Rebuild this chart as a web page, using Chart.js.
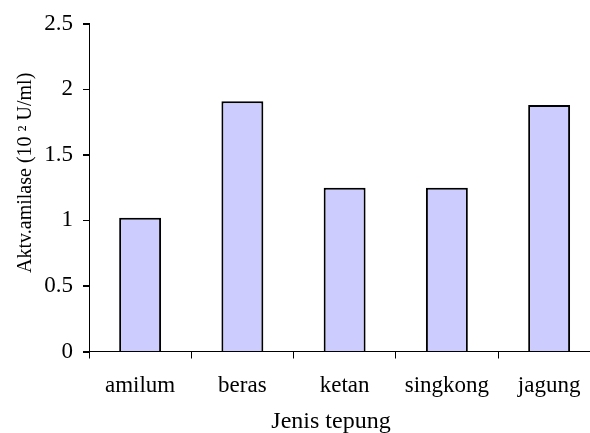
<!DOCTYPE html>
<html>
<head>
<meta charset="utf-8">
<script src="https://cdn.jsdelivr.net/npm/chart.js@4/dist/chart.umd.min.js"></script>
<style>
  html, body { margin: 0; padding: 0; background: #fff; overflow: hidden; }
  #wrap { position: relative; width: 612px; height: 433px; }
</style>
</head>
<body>
<div id="wrap"><canvas id="c"></canvas></div>
<script>
// Amylase activity per flour type
const categories = ['amilum', 'beras', 'ketan', 'singkong', 'jagung'];
const activity = [1.02, 1.91, 1.25, 1.25, 1.88];
const yTickValues = [0, 0.5, 1, 1.5, 2, 2.5];
const yTickLabels = ['0', '0.5', '1', '1.5', '2', '2.5'];
const xTitle = 'Jenis tepung';
const yTitle = 'Aktv.amilase (10 \u00B2 U/ml)';

const FONT = '"Liberation Serif", "Times New Roman", serif';

// Axis titles and outward tick marks on the value axis
const axisDecor = {
  id: 'axisDecor',
  afterDraw(chart) {
    const { ctx, chartArea, scales } = chart;
    const y = scales.y;
    ctx.save();
    ctx.strokeStyle = '#000';
    ctx.lineWidth = 1;
    ctx.beginPath();
    yTickValues.forEach(v => {
      const py = Math.round(y.getPixelForValue(v)) + 0.5;
      ctx.moveTo(y.right - 6, py);
      ctx.lineTo(y.right, py);
    });
    ctx.stroke();

    ctx.fillStyle = '#000';
    ctx.textAlign = 'center';
    ctx.textBaseline = 'alphabetic';
    ctx.font = '24px ' + FONT;
    ctx.fillText(xTitle, chartArea.left + 242, 428);
    ctx.translate(31, chartArea.top + 149);
    ctx.rotate(-Math.PI / 2);
    ctx.font = '20px ' + FONT;
    ctx.fillText(yTitle, 0, 0);
    ctx.restore();
  }
};

new Chart(document.getElementById('c'), {
  type: 'bar',
  data: {
    labels: categories,
    datasets: [{
      data: activity,
      backgroundColor: '#CCCCFF',
      borderColor: '#000000',
      borderWidth: 2,
      borderSkipped: 'start',
      barPercentage: 0.41,
      categoryPercentage: 1
    }]
  },
  options: {
    responsive: true,
    maintainAspectRatio: false,
    animation: false,
    devicePixelRatio: 1,
    layout: { padding: { top: 21, right: 11.75, bottom: 0, left: 0 } },
    plugins: {
      legend: { display: false },
      tooltip: { enabled: false },
      title: { display: false }
    },
    scales: {
      x: {
        type: 'category',
        offset: true,
        grid: {
          display: true,
          offset: true,
          drawOnChartArea: false,
          drawTicks: true,
          tickLength: 7,
          tickWidth: 1,
          tickColor: '#000',
          color: '#000'
        },
        border: { display: true, color: '#000', width: 1 },
        ticks: {
          color: '#000',
          font: { family: FONT, size: 23 },
          padding: 14,
          maxRotation: 0,
          autoSkip: false
        },
        afterFit(scale) { scale.height = 81.5; }
      },
      y: {
        min: 0,
        max: 2.5,
        afterBuildTicks(scale) {
          scale.ticks = yTickValues.map(v => ({ value: v }));
        },
        grid: {
          display: true,
          drawOnChartArea: false,
          drawTicks: true,
          tickLength: 6,
          tickWidth: 1,
          tickColor: '#000',
          color: '#000'
        },
        border: { display: true, color: '#000', width: 1 },
        ticks: {
          color: '#000',
          font: { family: FONT, size: 23 },
          padding: 10,
          callback(value) {
            const i = yTickValues.indexOf(value);
            return i >= 0 ? yTickLabels[i] : '';
          }
        },
        afterFit(scale) { scale.width = 89; }
      }
    }
  },
  plugins: [axisDecor]
});
</script>
</body>
</html>
